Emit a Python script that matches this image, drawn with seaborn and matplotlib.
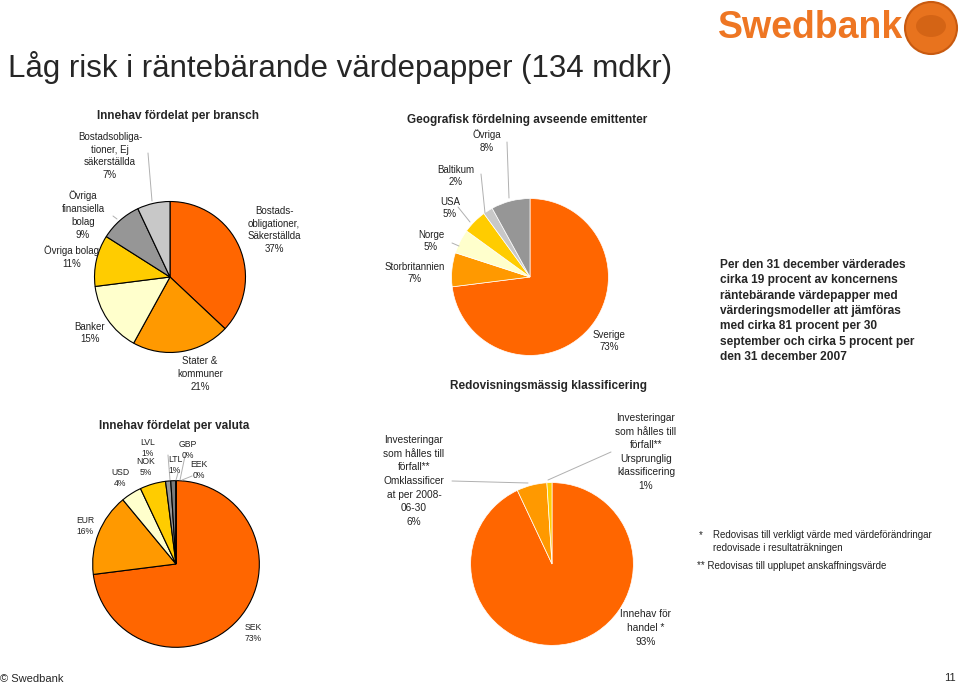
import matplotlib
matplotlib.use("Agg")
import matplotlib.pyplot as plt
from matplotlib.lines import Line2D
from matplotlib.patches import Ellipse
import seaborn as sns

sns.set_theme(style="white")
plt.rcParams['font.family'] = ['Liberation Sans', 'DejaVu Sans']

# --- data ---
bransch_labels = ["Bostads-\nobligationer,\nSäkerställda", "Stater &\nkommuner", "Banker",
                  "Övriga bolag", "Övriga\nfinansiella\nbolag", "Bostadsobliga-\ntioner, Ej\nsäkerställda"]
bransch_values = [37, 21, 15, 11, 9, 7]

geo_labels = ["Sverige", "Storbritannien", "Norge", "USA", "Baltikum", "Övriga"]
geo_values = [73, 7, 5, 5, 2, 8]

valuta_labels = ["SEK", "EUR", "USD", "NOK", "LVL", "LTL", "GBP", "EEK"]
valuta_values = [73, 16, 4, 5, 1, 1, 0, 0]

klass_labels = ["Innehav för\nhandel *",
                "Investeringar\nsom hålles till\nförfall**\nOmklassificer\nat per 2008-\n06-30",
                "Investeringar\nsom hålles till\nförfall**\nUrsprunglig\nklassificering"]
klass_values = [93, 6, 1]

ORANGE, MID, PALE, YELLOW = "#FF6600", "#FF9900", "#FFFFCC", "#FFCC00"
GRAY, LGRAY = "#969696", "#C8C8C8"

W, H = 960, 685
fig = plt.figure(figsize=(W / 100, H / 100), dpi=100)
fig.patch.set_facecolor("white")


def fx(x, y):
    return x / W, 1 - y / H


def txt(x, y, s, **kw):
    kw.setdefault("ha", "center")
    kw.setdefault("va", "center")
    fig.text(*fx(x, y), s, **kw)


def line(pts, color="#B0B0B0"):
    xs = [p[0] / W for p in pts]
    ys = [1 - p[1] / H for p in pts]
    fig.add_artist(Line2D(xs, ys, color=color, lw=0.7, transform=fig.transFigure))


def pie(cx, cy, r, values, colors, edge, lw):
    ax = fig.add_axes([(cx - r) / W, 1 - (cy + r) / H, 2 * r / W, 2 * r / H])
    ax.pie(values, colors=colors, startangle=90, counterclock=False,
           wedgeprops=dict(edgecolor=edge, linewidth=lw))
    ax.set_xlim(-1.02, 1.02)
    ax.set_ylim(-1.02, 1.02)
    ax.set_axis_off()
    return ax


# --- header ---
txt(8, 68, "Låg risk i räntebärande värdepapper (134 mdkr)", ha="left", fontsize=22.5)
txt(811, 28, "Swedbank", fontsize=27, fontweight="bold", color="#EE7623")
fig.add_artist(Ellipse(fx(931, 28), 52 / W, 52 / H, transform=fig.transFigure,
                       facecolor="#E8731E", edgecolor="#C85A10", lw=1.5))
fig.add_artist(Ellipse(fx(931, 26), 30 / W, 22 / H, transform=fig.transFigure,
                       facecolor="#C85A10", edgecolor="none", alpha=0.6))

# --- pie 1: bransch ---
pie(170, 277, 77, bransch_values, [ORANGE, MID, PALE, YELLOW, GRAY, LGRAY], "black", 0.8)
txt(178, 116, "Innehav fördelat per bransch", fontsize=8.5, fontweight="bold")
lp = dict(fontsize=7, linespacing=1.35, color="#222222")
bransch_pos = [(274, 230), (200, 374), (90, 333), (72, 257), (83, 215), (110, 156)]
for (x, y), lab, v in zip(bransch_pos, bransch_labels, bransch_values):
    txt(x, y, f"{lab}\n{v}%", **lp)
line([(148, 153), (152, 201)])
line([(113, 216), (117, 219)])

# --- pie 2: geografisk ---
pie(530, 277, 80, geo_values, [ORANGE, MID, PALE, YELLOW, LGRAY, GRAY], "white", 0.5)
txt(527, 120, "Geografisk fördelning avseende emittenter", fontsize=8.5, fontweight="bold")
geo_pos = [(609, 341), (415, 273), (431, 241), (450, 208), (456, 176), (487, 141)]
for (x, y), lab, v in zip(geo_pos, geo_labels, geo_values):
    txt(x, y, f"{lab}\n{v}%", **lp)
line([(507, 142), (509, 198)])
line([(481, 174), (485, 213)])
line([(458, 207), (470, 222)])
line([(452, 243), (459, 246)])
txt(548, 386, "Redovisningsmässig klassificering", fontsize=8.5, fontweight="bold")

# --- pie 3: valuta ---
pie(176, 564, 85, valuta_values,
    [ORANGE, MID, PALE, YELLOW, GRAY, "#7A7A7A", LGRAY, "#555555"], "black", 0.8)
txt(174, 426, "Innehav fördelat per valuta", fontsize=8.5, fontweight="bold")
valuta_pos = [(253, 633), (85, 526), (120, 478), (146, 467), (148, 448),
              (175, 465), (188, 450), (199, 470)]
sp = dict(fontsize=6.2, linespacing=1.25, color="#222222")
for (x, y), lab, v in zip(valuta_pos, valuta_labels, valuta_values):
    txt(x, y, f"{lab}\n{v}%", **sp)
line([(168, 455), (170, 480)])
line([(178, 473), (176, 480)])
line([(185, 456), (180, 480)])
line([(192, 476), (182, 480)])

# --- pie 4: klassificering ---
pie(552, 564, 83, klass_values, [ORANGE, MID, YELLOW], "white", 0.5)
klass_pos = [(646, 628), (414, 481), (646, 452)]
kp = dict(fontsize=7.3, linespacing=1.45, color="#222222")
for (x, y), lab, v in zip(klass_pos, klass_labels, klass_values):
    txt(x, y, f"{lab}\n{v}%", **kp)
line([(452, 481), (528, 483)])
line([(611, 452), (548, 480)])

# --- right-hand text ---
txt(720, 311, "Per den 31 december värderades\ncirka 19 procent av koncernens\n"
    "räntebärande värdepapper med\nvärderingsmodeller att jämföras\n"
    "med cirka 81 procent per 30\nseptember och cirka 5 procent per\n"
    "den 31 december 2007", ha="left", fontsize=8.6, fontweight="bold", linespacing=1.37)

fn = dict(ha="left", fontsize=7, color="#222222")
txt(699, 535, "*", **fn)
txt(713, 535, "Redovisas till verkligt värde med värdeförändringar", **fn)
txt(713, 548, "redovisade i resultaträkningen", **fn)
txt(697, 566, "** Redovisas till upplupet anskaffningsvärde", **fn)

# --- footer ---
txt(0, 679, "© Swedbank", ha="left", fontsize=8)
txt(956, 678, "11", ha="right", fontsize=8)

fig.savefig("out.png", dpi=100, facecolor="white")
